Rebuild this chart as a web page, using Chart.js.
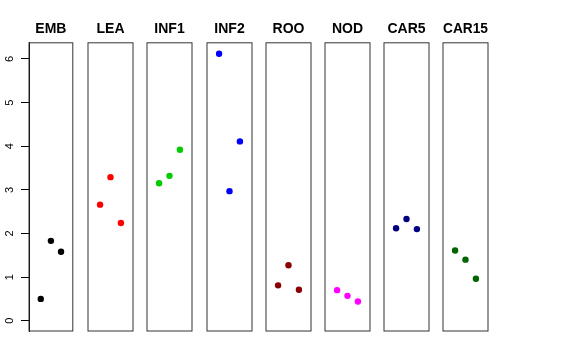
<!DOCTYPE html>
<html>
<head>
<meta charset="utf-8">
<script src="https://cdn.jsdelivr.net/npm/chart.js@4.4.1/dist/chart.umd.min.js"></script>
<style>
  body { margin:0; background:#fff; }
  #wrap { position:relative; width:576px; height:360px; }
  #wrap canvas { position:absolute; top:0; }
</style>
</head>
<body>
<div id="wrap"></div>
<script>
// panel names and point values (x = 1,2,3 inside each panel)
const panels = ['EMB','LEA','INF1','INF2','ROO','NOD','CAR5','CAR15'];
const xPos = [1, 2, 3];
const embVals  = [0.50, 1.83, 1.58];
const leaVals  = [2.66, 3.29, 2.24];
const inf1Vals = [3.15, 3.32, 3.92];
const inf2Vals = [6.12, 2.97, 4.11];
const rooVals  = [0.81, 1.27, 0.71];
const nodVals  = [0.70, 0.57, 0.44];
const car5Vals = [2.12, 2.33, 2.10];
const car15Vals= [1.61, 1.40, 0.96];
const panelColors = ['#000000','#ff0000','#00cd00','#0000ff','#8b0000','#ff00ff','#000080','#006400'];
const yTicks = [0, 1, 2, 3, 4, 5, 6];

const allVals = [embVals, leaVals, inf1Vals, inf2Vals, rooVals, nodVals, car5Vals, car15Vals];

const boxLeft0 = 29, boxPitch = 59.2, boxW = 44.6;
const wrap = document.getElementById('wrap');

const boxPlugin = {
  id:'panelBox',
  afterDatasetsDraw(chart){
    const a = chart.chartArea, ctx = chart.ctx;
    ctx.save();
    ctx.strokeStyle = '#333';
    ctx.lineWidth = 1;
    ctx.strokeRect(a.left, a.top, a.right - a.left, a.bottom - a.top);
    ctx.restore();
  }
};

// rotated tick labels, R style
const yLabelPlugin = {
  id:'rLabels',
  afterDraw(chart){
    const ys = chart.scales.y, ctx = chart.ctx;
    ctx.save();
    ctx.fillStyle = '#000';
    ctx.font = '11px "Liberation Sans", Arial, sans-serif';
    ctx.textAlign = 'center';
    ctx.textBaseline = 'middle';
    yTicks.forEach(t => {
      ctx.save();
      ctx.translate(9.5, ys.getPixelForValue(t));
      ctx.rotate(-Math.PI/2);
      ctx.fillText(String(t), 0, 0);
      ctx.restore();
    });
    ctx.restore();
  }
};

panels.forEach((name, i) => {
  const first = i === 0;
  const pad = first ? 0 : 6;
  const padR = first ? 2 : 6;
  const left = first ? 0 : boxLeft0 + i*boxPitch - pad;
  const cv = document.createElement('canvas');
  cv.width = Math.round(first ? boxLeft0 + boxW + padR : boxW + pad + padR);
  cv.height = 342;
  cv.style.left = left + 'px';
  wrap.appendChild(cv);

  const yScale = {
    type:'linear', min:-0.236, max:6.37,
    display:false
  };
  if (first) {
    Object.assign(yScale, {
      display:true,
      position:'left',
      afterBuildTicks:(s) => { s.ticks = yTicks.map(v => ({value:v})); },
      afterFit:(s) => { s.width = boxLeft0; },
      border:{ display:true, color:'#000', width:1 },
      grid:{ drawOnChartArea:false, drawTicks:true, tickLength:8, color:'#000', lineWidth:1 },
      ticks:{ display:false }
    });
  }

  new Chart(cv, {
    type:'scatter',
    data:{
      datasets:[{
        data: xPos.map((x, k) => ({x:x, y:allVals[i][k]})),
        backgroundColor: panelColors[i],
        borderWidth:0,
        pointRadius:3.2,
        pointHoverRadius:3.2
      }]
    },
    options:{
      responsive:false,
      animation:false,
      layout:{ padding:{ left:pad, right:padR, top:0, bottom:11 } },
      plugins:{
        legend:{ display:false },
        tooltip:{ enabled:false },
        title:{
          display:true,
          fullSize:!first,
          text:name,
          color:'#000',
          font:{ family:'"Liberation Sans", Arial, sans-serif', size:14, weight:'bold' },
          padding:{ top:21, bottom:5 }
        }
      },
      scales:{
        x:{ type:'linear', min:-0.16, max:4.16, display:false },
        y:yScale
      }
    },
    plugins: first ? [boxPlugin, yLabelPlugin] : [boxPlugin]
  });
});
</script>
</body>
</html>
